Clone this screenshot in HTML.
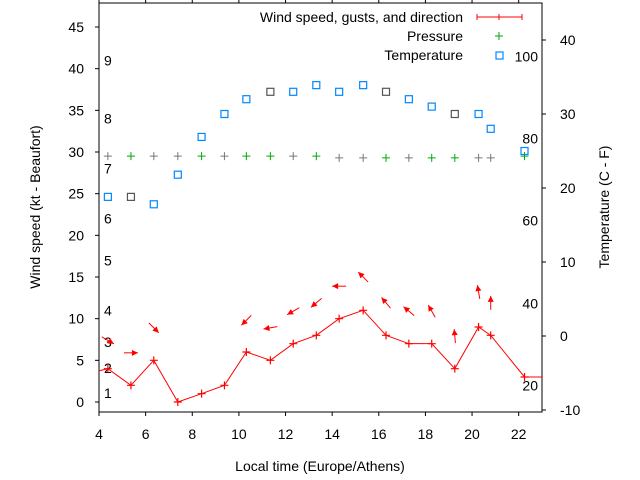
<!DOCTYPE html>
<html><head><meta charset="utf-8"><style>
body{margin:0;background:#fff}
svg{display:block;font-family:"Liberation Sans",sans-serif;font-size:14px}
</style></head><body>
<svg id="c" width="640" height="480"></svg>
<script>
const times=[4.38,5.37,6.35,7.38,8.4,9.38,10.32,11.35,12.33,13.32,14.3,15.33,16.31,17.29,18.27,19.26,20.28,20.8,22.25];
const windSpeed=[4,2,5,0,1,2,6,5,7,8,10,11,8,7,7,4,9,8,3];
const gust=[7.4,5.9,8.9,null,null,null,9.8,8.9,10.9,11.9,13.9,15,11.9,10.9,10.9,7.9,13.2,11.9,null];
const windDir=[120,90,135,null,null,null,225,260,240,230,270,315,320,310,330,355,350,0,null];
const pressure=[29.5,29.5,29.5,29.5,29.5,29.5,29.5,29.5,29.5,29.5,29.3,29.3,29.3,29.3,29.3,29.3,29.3,29.3,29.5];
const pressureGray=[1,0,1,1,0,1,0,0,1,0,1,1,0,1,0,0,1,1,0];
const temperature=[18.8,18.8,17.8,21.8,26.9,30,32,33,33,33.9,33,33.9,33,32,31,30,30,28,25];
const tempGray=[0,1,0,0,0,0,0,1,0,0,0,0,1,0,0,1,0,0,0];
const xTicks=[4,6,8,10,12,14,16,18,20,22];
const yTicks=[0,5,10,15,20,25,30,35,40,45];
const y2Ticks=[-10,0,10,20,30,40];
const beaufort=[[1,1.1],[2,4.1],[3,7.2],[4,11],[5,17],[6,22],[7,28],[8,34],[9,41]];
const fahr=[[20,-6.7],[40,4.4],[60,15.6],[80,26.7],[100,37.8]];

const L=99,R=542,T=3,B=412;
const X=t=>L+(t-4)/(23-4)*(R-L);
const Y=v=>402-v*8.333;
const Y2=v=>336-v*7.4;
const svg=document.getElementById('c');
const NS='http://www.w3.org/2000/svg';
function mk(tag,at,parent){const e=document.createElementNS(NS,tag);for(const k in at)e.setAttribute(k,at[k]);(parent||svg).appendChild(e);return e;}
function txt(x,y,s,anchor,extra){const e=mk('text',Object.assign({x:x,y:y,'text-anchor':anchor||'middle',fill:'#000'},extra||{}));e.textContent=s;return e;}

// frame
const fr=mk('rect',{x:L,y:T,width:R-L,height:B-T,fill:'none',stroke:'#000','stroke-width':1});


xTicks.forEach(t=>{
  mk('line',{x1:X(t),x2:X(t),y1:B,y2:B+4,stroke:'#000'});
  mk('line',{x1:X(t),x2:X(t),y1:T,y2:T-4,stroke:'#000'});
  const e=txt(X(t),439,String(t));
  
  
});
yTicks.forEach(v=>{
  mk('line',{x1:L-4,x2:L,y1:Y(v),y2:Y(v),stroke:'#000'});
  const e=txt(84,Y(v)+5,String(v),'end');
  
  
});
y2Ticks.forEach(v=>{
  mk('line',{x1:R,x2:R+4,y1:Y2(v),y2:Y2(v),stroke:'#000'});
  const e=txt(560,Y2(v)+5,String(v),'start');
  
  
});
beaufort.forEach(b=>{
  const e=txt(104,Y(b[1])+5,String(b[0]),'start');
  
  
});
fahr.forEach(f=>{
  const e=txt(538,Y2(f[1])+5,String(f[0]),'end');
  
  
});
// axis titles
let e=txt(320,471,'Local time (Europe/Athens)');


e=txt(0,0,'Wind speed (kt - Beaufort)','middle',{transform:'translate(40,207) rotate(-90)'});


e=txt(0,0,'Temperature (C - F)','middle',{transform:'translate(609,207) rotate(-90)'});



const g=mk('g',{});
// clip
const cp=mk('clipPath',{id:'clip'});mk('rect',{x:L,y:T,width:R-L,height:B-T},cp);
g.setAttribute('clip-path','url(#clip)');
// wind line
let pts=[[X(3.5),Y(3.4)]].concat(times.map((t,i)=>[X(t),Y(windSpeed[i])])).concat([[X(24),Y(3)]]);
const ln=mk('polyline',{points:pts.map(p=>p.join(',')).join(' '),fill:'none',stroke:'#f00','stroke-width':1},g);


times.forEach((t,i)=>{
  const x=X(t),y=Y(windSpeed[i]);
  const p=mk('path',{d:`M${x-4},${y}H${x+4}M${x},${y-4}V${y+4}`,stroke:'#f00','stroke-width':1.2},g);
  
  
  if(gust[i]!=null){
    const cx=x,cy=Y(gust[i]),a=windDir[i]*Math.PI/180;
    const dx=Math.sin(a),dy=-Math.cos(a),len=7;
    const hx=cx+dx*len,hy=cy+dy*len,tx=cx-dx*len,ty=cy-dy*len;
    const px=-dy,py=dx;
    const ar=mk('g',{},g);
    
    
    mk('line',{x1:tx,y1:ty,x2:hx,y2:hy,stroke:'#f00','stroke-width':1},ar);
    mk('polygon',{points:`${hx},${hy} ${hx-dx*6+px*3},${hy-dy*6+py*3} ${hx-dx*6-px*3},${hy-dy*6-py*3}`,fill:'#f00'},ar);
  }
  const px2=X(t),py2=Y(pressure[i]);
  const pp=mk('path',{d:`M${px2-4},${py2}H${px2+4}M${px2},${py2-4}V${py2+4}`,stroke:pressureGray[i]?'#777':'#0a0','stroke-width':1},g);
  
  
  const sq=mk('rect',{x:X(t)-3.5,y:Y2(temperature[i])-3.5,width:7,height:7,fill:'none',stroke:tempGray[i]?'#555':'#08f','stroke-width':1.2},g);
  
  
});
// legend
const lg=mk('g',{});


const labs=['Wind speed, gusts, and direction','Pressure','Temperature'];
labs.forEach((s,i)=>{const t=txt(463,22+i*19,s,'end');lg.appendChild(t);});
mk('path',{d:'M477,17H522M477,14V20M522,14V20M499,14V20',stroke:'#f00','stroke-width':1},lg);
mk('path',{d:'M495,36H503M499,32V40',stroke:'#0a0','stroke-width':1},lg);
mk('rect',{x:496,y:52,width:7,height:7,fill:'none',stroke:'#08f','stroke-width':1.2},lg);
</script>
</body></html>
